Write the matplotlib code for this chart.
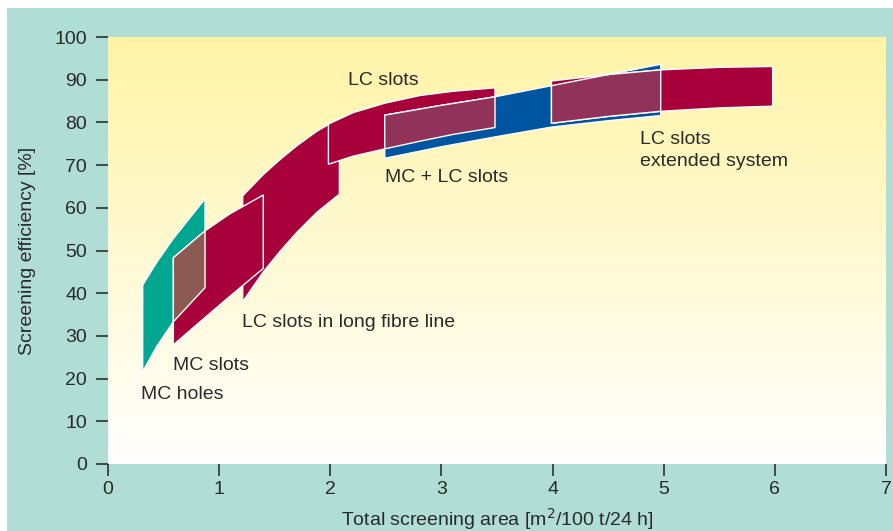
import numpy as np
import matplotlib.pyplot as plt
from matplotlib.patches import Polygon, Rectangle
from matplotlib import font_manager

# band edges: x positions, top and bottom efficiency
holes_x = [0.312, 0.438, 0.588, 0.873]
holes_top = [41.9, 47.2, 52.8, 62.1]
holes_bot = [21.6, 27.5, 33.3, 41.3]

mcslots_x = [0.588, 0.873, 1.098, 1.397]
mcslots_top = [48.3, 54.6, 58.6, 63.0]
mcslots_bot = [27.9, 34.3, 39.3, 45.8]

longfibre_x = [1.212, 1.398, 1.548, 1.698, 1.878, 2.082]
longfibre_top = [62.8, 67.8, 71.3, 74.5, 77.9, 81.0]
longfibre_bot = [38.0, 45.0, 49.8, 54.2, 58.9, 63.2]

lcslots_x = [1.983, 2.207, 2.49, 2.807, 3.107, 3.482]
lcslots_top = [79.6, 82.3, 84.5, 86.3, 87.3, 88.1]
lcslots_bot = [70.2, 72.1, 73.8, 75.6, 77.2, 78.8]

mclc_x = [2.49, 3.0, 3.482, 3.99, 4.5, 4.973]
mclc_top = [81.7, 84.0, 86.0, 88.6, 91.2, 93.6]
mclc_bot = [71.6, 74.3, 76.6, 78.9, 80.4, 81.6]

lcext_x = [3.99, 4.5, 4.973, 5.5, 5.98]
lcext_top = [89.7, 91.2, 92.3, 92.9, 93.1]
lcext_bot = [79.8, 81.4, 82.6, 83.4, 83.8]

labels = ["LC slots", "MC + LC slots", "LC slots\nextended system",
          "LC slots in long fibre line", "MC slots", "MC holes"]
label_x = [2.16, 2.49, 4.79, 1.21, 0.585, 0.30]
label_y = [89.7, 67.0, 73.5, 33.2, 23.0, 16.2]

xticks = list(range(0, 8))
yticks = list(range(0, 101, 10))

TEAL_BG = "#b0ddd4"
C_TEAL = "#00a690"
C_RED = "#a8003a"
C_BROWN = "#8c5a52"
C_PURPLE = "#91325a"
C_BLUE = "#0055a0"
TXT = "#2a2a2a"

names = [f.name for f in font_manager.fontManager.ttflist]
fam = ["Liberation Sans Narrow", "DejaVu Sans"] if "Liberation Sans Narrow" in names \
    else ["Liberation Sans", "DejaVu Sans"]
plt.rcParams["font.family"] = fam


def band(x, top, bot):
    pts = list(zip(x, top)) + list(zip(x[::-1], bot[::-1]))
    return np.array(pts)


fig = plt.figure(figsize=(8.93, 5.31), dpi=100, facecolor="white")
fig.add_artist(Rectangle((7 / 893, 0), 1, 1 - 8 / 531, transform=fig.transFigure,
                         facecolor=TEAL_BG, edgecolor="none", zorder=-10))
ax = fig.add_axes([108 / 893, 67 / 531, 778 / 893, 427 / 531])
ax.set_zorder(1)

# background gradient, yellow at top to white at bottom
grad = np.linspace(0, 1, 256).reshape(-1, 1)
top_c = np.array([255, 244, 166]) / 255
bot_c = np.array([255, 255, 255]) / 255
img = bot_c[None, None, :] * (1 - grad[..., None]) + top_c[None, None, :] * grad[..., None]
ax.imshow(img, extent=[0, 1, 0, 1], transform=ax.transAxes, origin="lower",
          aspect="auto", zorder=0)
ax.set_xlim(0, 7)
ax.set_ylim(0, 100)

LW = 1.0


def draw(pts, color, z):
    p = Polygon(pts, closed=True, facecolor=color, edgecolor="white", lw=LW,
                joinstyle="miter", zorder=z)
    ax.add_patch(p)
    return p


def overlap(pa, pb, color, z):
    # fill of b clipped to a, plus outline of a clipped to b
    fill = Polygon(pb, closed=True, facecolor=color, edgecolor="white", lw=LW, zorder=z)
    ax.add_patch(fill)
    fill.set_clip_path(Polygon(pa, closed=True, transform=ax.transData))
    edge = Polygon(pa, closed=True, facecolor="none", edgecolor="white", lw=LW, zorder=z + 0.1)
    ax.add_patch(edge)
    edge.set_clip_path(Polygon(pb, closed=True, transform=ax.transData))


holes = band(holes_x, holes_top, holes_bot)
mcs = band(mcslots_x, mcslots_top, mcslots_bot)
lf = band(longfibre_x, longfibre_top, longfibre_bot)
lcs = band(lcslots_x, lcslots_top, lcslots_bot)
mclc = band(mclc_x, mclc_top, mclc_bot)
lce = band(lcext_x, lcext_top, lcext_bot)

draw(lf, C_RED, 2)
draw(holes, C_TEAL, 3)
draw(mcs, C_RED, 4)
overlap(holes, mcs, C_BROWN, 5)

draw(lcs, C_RED, 2)
draw(mclc, C_BLUE, 3)
overlap(lcs, mclc, C_PURPLE, 5)
draw(lce, C_RED, 4)
overlap(mclc, lce, C_PURPLE, 5)

for t, x, y in zip(labels, label_x, label_y):
    ax.text(x, y, t, fontsize=14, color=TXT, ha="left", va="center",
            linespacing=1.4, zorder=10)

for s in ax.spines.values():
    s.set_visible(False)
ax.set_xticks(xticks)
ax.set_yticks(yticks)
ax.tick_params(axis="both", direction="out", length=8.6, width=1.1, color="#222222",
               labelsize=14, labelcolor=TXT)
ax.tick_params(axis="y", pad=6.5)
ax.tick_params(axis="x", pad=3.5)
ax.set_xlabel("Total screening area [m$^2$/100 t/24 h]", fontsize=14, color=TXT, labelpad=6)
ax.set_ylabel("Screening efficiency [%]", fontsize=14, color=TXT, labelpad=13)

fig.savefig("out.png", dpi=100, facecolor="white")
